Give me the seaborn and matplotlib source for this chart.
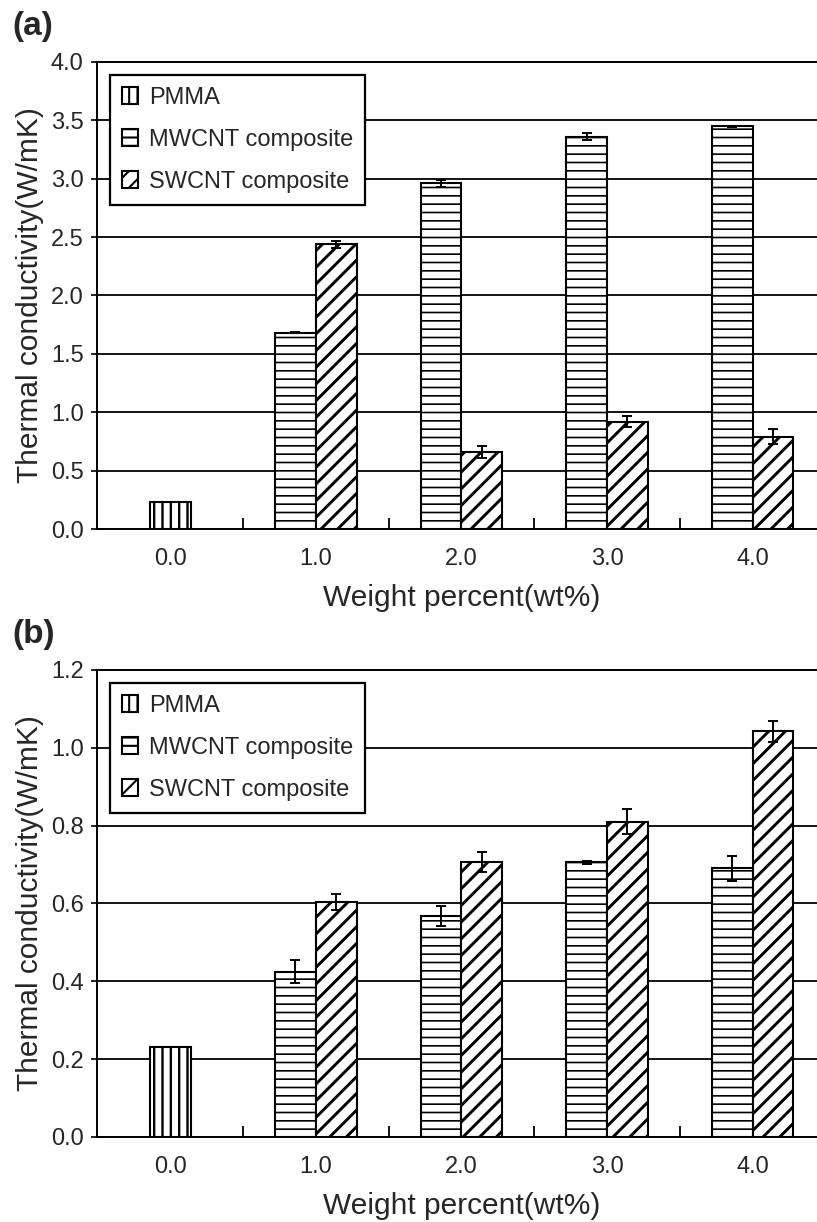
import numpy as np
import pandas as pd
import matplotlib
matplotlib.use("Agg")
import matplotlib.pyplot as plt
import seaborn as sns

# ---- data -------------------------------------------------------------
weight_labels = ["0.0", "1.0", "2.0", "3.0", "4.0"]
series_names = ["PMMA", "MWCNT composite", "SWCNT composite"]
series_hatches = ["||", "--", "//"]
series_hatch_widths = [1.7, 1.2, 2.1]

# panel (a)
pmma_a = [0.23]
pmma_a_err = [0.0]
mwcnt_a = [1.68, 2.96, 3.36, 3.45]
mwcnt_a_err = [0.005, 0.028, 0.03, 0.005]
swcnt_a = [2.44, 0.66, 0.92, 0.79]
swcnt_a_err = [0.03, 0.05, 0.048, 0.065]

# panel (b)
pmma_b = [0.23]
pmma_b_err = [0.0]
mwcnt_b = [0.425, 0.568, 0.706, 0.69]
mwcnt_b_err = [0.03, 0.026, 0.004, 0.033]
swcnt_b = [0.604, 0.706, 0.81, 1.042]
swcnt_b_err = [0.02, 0.026, 0.032, 0.027]

# ---- style ------------------------------------------------------------
sns.set_theme(style="white")
plt.rcParams["font.family"] = ["Liberation Sans", "DejaVu Sans"]
plt.rcParams["hatch.linewidth"] = 1.5
plt.rcParams["hatch.color"] = "black"

OFFSET = 0.14  # half of a bar width: the two composites sit side by side


def build_frame(pmma, pmma_err, mwcnt, mwcnt_err, swcnt, swcnt_err):
    rows = [dict(pos=0.0, value=pmma[0], err=pmma_err[0], series=series_names[0])]
    for i, (m, me, s, se) in enumerate(zip(mwcnt, mwcnt_err, swcnt, swcnt_err), start=1):
        rows.append(dict(pos=i - OFFSET, value=m, err=me, series=series_names[1]))
        rows.append(dict(pos=i + OFFSET, value=s, err=se, series=series_names[2]))
    return pd.DataFrame(rows)


def draw_panel(ax, df, ymax, ystep):
    sns.barplot(
        data=df, x="pos", y="value", hue="series", hue_order=series_names,
        palette={n: "white" for n in series_names}, native_scale=True,
        dodge=False, width=1.0, errorbar=None, edgecolor="black",
        linewidth=1.5, legend=False, ax=ax,
    )
    bar_containers = list(ax.containers)
    for cont, hatch, hlw in zip(bar_containers, series_hatches, series_hatch_widths):
        for patch in cont:
            patch.set_hatch(hatch)
            if hasattr(patch, "set_hatch_linewidth"):
                patch.set_hatch_linewidth(hlw)
            patch.set_zorder(2)

    ax.errorbar(df["pos"], df["value"], yerr=df["err"], fmt="none",
                ecolor="black", elinewidth=1.4, capsize=3.3, capthick=1.4,
                zorder=3)

    ax.set_xlim(-0.5, 4.5)
    ax.set_xticks(range(len(weight_labels)))
    ax.set_xticklabels(weight_labels)
    ax.set_xticks(np.arange(0.5, 4.0, 1.0), minor=True)
    ax.tick_params(axis="x", which="major", length=0, pad=14, labelsize=17)
    ax.tick_params(axis="x", which="minor", direction="in", length=8,
                   width=1.3, color="black", bottom=True)

    ax.set_ylim(0, ymax)
    yt = np.arange(0, ymax + 1e-9, ystep)
    ax.set_yticks(yt)
    ax.set_yticklabels([f"{v:.1f}" for v in yt])
    ax.tick_params(axis="y", which="major", direction="out", length=4,
                   width=1.2, color="black", left=True, pad=6, labelsize=17)

    ax.yaxis.grid(True, color="black", linewidth=1.3)
    ax.xaxis.grid(False)
    ax.set_axisbelow(True)

    for side in ["left", "bottom", "top"]:
        ax.spines[side].set_color("black")
        ax.spines[side].set_linewidth(1.4)
    ax.spines["right"].set_visible(False)

    ax.set_xlabel("Weight percent(wt%)", fontsize=21.5, labelpad=10)
    ax.set_ylabel("Thermal conductivity(W/mK)", fontsize=21.5, labelpad=5)

    leg = ax.legend(
        handles=bar_containers, labels=series_names, loc="upper left",
        bbox_to_anchor=(0.0172, 0.972), borderaxespad=0, frameon=True,
        fancybox=False, edgecolor="black", framealpha=1, fontsize=17,
        handlelength=0.7, handleheight=0.75, handletextpad=0.45,
        labelspacing=0.85, borderpad=0.5,
    )
    leg.get_frame().set_linewidth(1.6)


fig = plt.figure(figsize=(8.17, 12.22), dpi=100)
ax_a = fig.add_axes([0.1193, 0.5671, 0.891, 0.3822])
ax_b = fig.add_axes([0.1193, 0.0696, 0.891, 0.3822])

draw_panel(ax_a, build_frame(pmma_a, pmma_a_err, mwcnt_a, mwcnt_a_err, swcnt_a, swcnt_a_err), 4.0, 0.5)
draw_panel(ax_b, build_frame(pmma_b, pmma_b_err, mwcnt_b, mwcnt_b_err, swcnt_b, swcnt_b_err), 1.2, 0.2)

fig.text(0.015, 1 - 11 / 1222, "(a)", fontsize=24, fontweight="bold", va="top", ha="left")
fig.text(0.015, 1 - 619 / 1222, "(b)", fontsize=24, fontweight="bold", va="top", ha="left")

fig.savefig("out.png", dpi=100, facecolor="white")
